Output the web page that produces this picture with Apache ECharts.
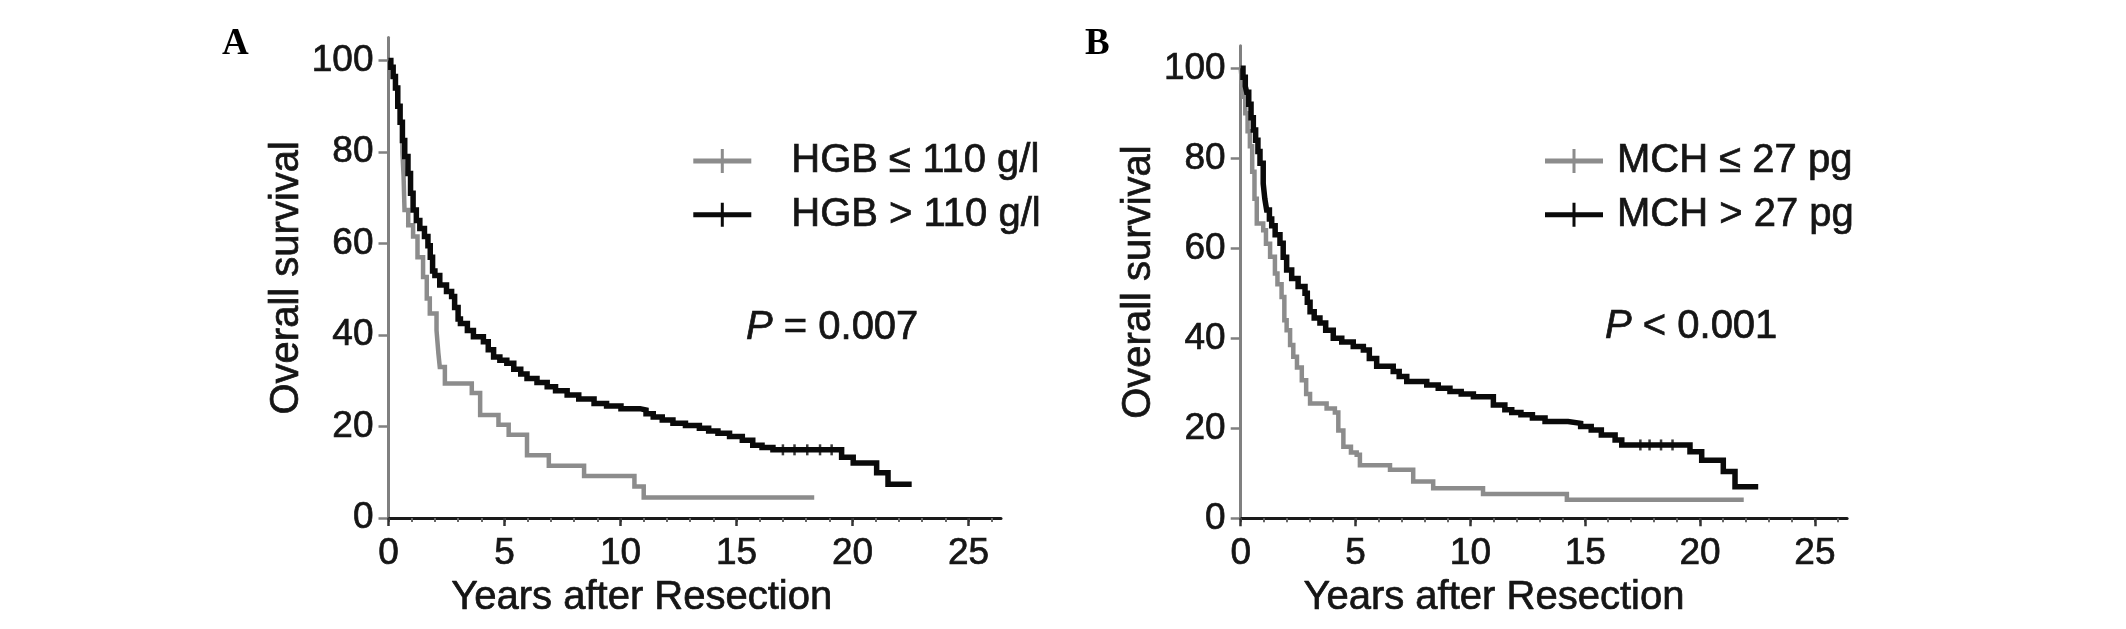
<!DOCTYPE html>
<html>
<head>
<meta charset="utf-8">
<script src="https://cdn.jsdelivr.net/npm/echarts/dist/echarts.min.js"></script>
<style>
html,body{margin:0;padding:0;background:#ffffff;}
#chart{width:2126px;height:629px;}
</style>
</head>
<body>
<div id="chart"></div>
<script>
// ---------- data ----------
const xLabelValues = [0, 5, 10, 15, 20, 25];
const xMinorTickValues = [0,1,2,3,4,5,6,7,8,9,10,11,12,13,14,15,16,17,18,19,20,21,22,23,24,25,26];
const yLabelValues = [0, 20, 40, 60, 80, 100];

const namesA = ['HGB ≤ 110 g/l', 'HGB > 110 g/l'];
const namesB = ['MCH ≤ 27 pg', 'MCH > 27 pg'];
const pTextA = 'P = 0.007';
const pTextB = 'P < 0.001';

// [years, survival %] step points (drop at the given time)
const hgbLow = [[0,100],[0.1,98.5],[0.2,96.5],[0.3,94],[0.4,90],[0.5,86.5],[0.6,80],[0.65,74.7],[0.69,67.3],[0.85,64],[1.06,61.5],[1.25,57],[1.49,52.7],[1.65,48],[1.78,44.7],[2.07,41],[2.15,36],[2.21,33],[2.43,29.4],[3.59,27.3],[3.95,22.5],[4.74,20.4],[5.18,18.2],[5.97,13.7],[6.91,11.4],[8.43,9.2],[10.6,6.9],[11.0,4.5],[18.35,4.5]];
const hgbHigh = [[0,100],[0.1,98.5],[0.2,96.5],[0.3,94],[0.4,90],[0.5,86.5],[0.6,82.5],[0.7,79],[0.84,75.3],[0.95,71],[1.06,67.3],[1.2,65],[1.35,63.3],[1.55,61.5],[1.7,59.5],[1.8,57],[1.9,54],[2.0,53],[2.21,50.9],[2.5,49.5],[2.72,48.4],[2.85,46],[3.0,43.5],[3.1,42.5],[3.4,41],[3.66,39.6],[4.09,38.5],[4.3,36.8],[4.53,35.2],[4.8,34.5],[5.1,33.8],[5.4,32.5],[5.7,31.5],[5.97,30.5],[6.4,29.6],[6.84,28.7],[7.2,27.8],[7.7,26.9],[8.2,26],[8.86,25.0],[9.4,24.5],[10.02,23.9],[10.84,23.6],[11.1,22.8],[11.41,22.1],[11.8,21.4],[12.26,20.7],[12.8,20.2],[13.4,19.6],[13.8,19.0],[14.2,18.5],[14.7,17.8],[15.25,17.0],[15.7,15.9],[16.1,15.4],[16.57,14.9],[19.53,13.3],[20.03,12.0],[21.04,9.9],[21.53,7.4],[22.55,7.4]];
const mchLow = [[0,100],[0.05,97],[0.11,93.7],[0.2,90],[0.3,86],[0.4,82.7],[0.5,77],[0.6,71],[0.7,65.5],[0.98,64],[1.1,61],[1.28,58.1],[1.49,54.4],[1.6,52],[1.78,49.2],[1.9,44],[2.0,41.8],[2.15,38.5],[2.29,35.9],[2.45,33.5],[2.66,30.7],[2.85,27.6],[3.02,25.5],[3.74,24.4],[4.1,23.5],[4.25,19.5],[4.47,15.9],[4.8,14.6],[5.05,14.1],[5.19,11.8],[6.5,10.8],[7.51,8.2],[8.38,6.7],[10.55,5.4],[14.2,4.1],[21.9,4.1]];
const mchHigh = [[0,100],[0.1,98],[0.2,96],[0.26,94.7],[0.35,92],[0.45,89],[0.55,86.3],[0.65,84],[0.75,81.5],[0.84,78.9],[0.98,74.4],[1.05,71],[1.13,68.5],[1.25,66.5],[1.35,65],[1.5,63],[1.71,61.1],[1.85,58],[2.0,55.2],[2.22,53.3],[2.5,51.5],[2.8,50],[2.9,48],[3.02,45.9],[3.2,44.5],[3.45,43.4],[3.7,41.8],[4.03,40],[4.4,39.2],[4.9,38.2],[5.34,37.4],[5.6,35.5],[5.92,33.8],[6.64,32.6],[6.9,31.5],[7.23,30.4],[8.1,29.6],[8.6,28.9],[9.11,28.2],[9.6,27.6],[10.13,27.0],[11.0,25.2],[11.5,24.1],[11.8,23.5],[12.2,23.0],[12.7,22.3],[13.25,21.5],[14.25,21.1],[14.8,20.4],[15.26,19.6],[15.7,18.5],[16.3,17.4],[16.59,16.3],[19.56,14.8],[20.07,12.9],[21.01,10.4],[21.52,7.0],[22.53,7.0]];
// censored observations visible on the flat parts
const hgbHighCensor = [[17.0,14.9],[17.5,14.9],[18.05,14.9],[18.6,14.9],[19.1,14.9]];
const mchHighCensor = [[17.4,16.3],[17.8,16.3],[18.3,16.3],[18.8,16.3]];

// ---------- styling ----------
const SANS = 'Liberation Sans, Arial, sans-serif';
const SERIF = 'Liberation Serif, Times New Roman, serif';
const TXT = '#151515';
const GRAY = '#8c8c8c';
const BLACK = '#0a0a0a';
const ICON = 'path://M0,9.5H58V14.5H0Z M27.5,0H30.5V24H27.5Z';
const HEAVY = {textBorderColor: TXT, textBorderWidth: 0.7};

const grids = [
  {left: 388.5, top: 37.6, width: 612.5, height: 480.4},
  {left: 1240.7, top: 45.8, width: 606.4, height: 472.5}
];

function mainX(gi, padRight) {
  return {
    type: 'value', gridIndex: gi, min: 0, max: 26.4, interval: 1, position: 'bottom',
    axisLine: {show: true, onZero: false, lineStyle: {color: '#1a1a1a', width: 3}},
    axisTick: {show: true, customValues: xMinorTickValues, length: 4, lineStyle: {color: '#666', width: 2}},
    axisLabel: Object.assign({show: true, customValues: xLabelValues, margin: 17, fontSize: 37, lineHeight: 37, fontFamily: SANS, color: TXT}, HEAVY),
    splitLine: {show: false},
    name: 'Years after Resection', nameLocation: 'middle', nameGap: 56,
    nameTextStyle: Object.assign({fontSize: 40, lineHeight: 40, fontFamily: SANS, color: TXT, padding: [0, padRight, 0, 0]}, HEAVY)
  };
}
function majorX(gi) {
  return {
    type: 'value', gridIndex: gi, min: 0, max: 26.4, interval: 5, position: 'top',
    offset: -grids[gi].height,
    axisLine: {show: false},
    axisTick: {show: true, inside: true, customValues: xLabelValues, length: 8, lineStyle: {color: '#333', width: 2.5}},
    axisLabel: {show: false}, splitLine: {show: false}
  };
}
function mainY(gi, gap) {
  return {
    type: 'value', gridIndex: gi, min: 0, max: 105, interval: 20,
    axisLine: {show: true, onZero: false, lineStyle: {color: '#808080', width: 3}},
    axisTick: {show: true, customValues: yLabelValues, length: 10, lineStyle: {color: '#808080', width: 2.5}},
    axisLabel: Object.assign({show: true, customValues: yLabelValues, margin: 15, fontSize: 37, lineHeight: 37, fontFamily: SANS, color: TXT, padding: [10, 0, 0, 0]}, HEAVY),
    splitLine: {show: false},
    name: 'Overall survival', nameLocation: 'middle', nameGap: gap,
    nameTextStyle: Object.assign({fontSize: 40, lineHeight: 40, fontFamily: SANS, color: TXT}, HEAVY)
  };
}
function kmLine(name, data, color, width, xi, yi) {
  return {
    type: 'line', name: name, data: data, step: 'end', symbol: 'none',
    xAxisIndex: xi, yAxisIndex: yi, color: color,
    lineStyle: {color: color, width: width, join: 'miter'},
    itemStyle: {color: color}, silent: true, animation: false
  };
}
function censor(name, data, color, xi, yi) {
  return {
    type: 'scatter', name: name, data: data, symbol: 'rect', symbolSize: [2.5, 11],
    xAxisIndex: xi, yAxisIndex: yi, itemStyle: {color: color}, silent: true, animation: false
  };
}
function legend(names, left, pad) {
  return {
    data: names.map(n => ({name: n, icon: ICON})),
    orient: 'vertical', left: left, top: 140.7, padding: 0, itemGap: 13,
    itemWidth: 58, itemHeight: 24, selectedMode: false,
    itemStyle: {borderWidth: 0},
    textStyle: Object.assign({fontSize: 40, lineHeight: 40, fontFamily: SANS, color: TXT, padding: [0, 0, 0, pad]}, HEAVY)
  };
}
function pTitle(text, left, top) {
  const parts = text.split(' ');
  return {
    text: '{i|' + parts[0] + '} ' + parts.slice(1).join(' '), left: left, top: top, padding: 0,
    textStyle: Object.assign({fontSize: 40, lineHeight: 40, fontWeight: 'normal', fontFamily: SANS, color: TXT,
      rich: {i: Object.assign({fontStyle: 'italic', fontSize: 40, lineHeight: 40, fontFamily: SANS, color: TXT}, HEAVY)}}, HEAVY)
  };
}
function letter(text, left) {
  return {text: text, left: left, top: 25.7, padding: 0,
    textStyle: {fontSize: 37, lineHeight: 37, fontWeight: 'bold', fontFamily: SERIF, color: '#000'}};
}

const chart = echarts.init(document.getElementById('chart'), null, {renderer: 'canvas'});
chart.setOption({
  backgroundColor: '#ffffff',
  animation: false,
  title: [letter('A', 222), letter('B', 1085), pTitle(pTextA, 746, 307.8), pTitle(pTextB, 1605, 306.8)],
  legend: [legend(namesA, 693.3, 35), legend(namesB, 1545, 9)],
  grid: grids,
  xAxis: [mainX(0, 106), majorX(0), mainX(1, 100), majorX(1)],
  yAxis: [mainY(0, 75), mainY(1, 70)],
  series: [
    kmLine(namesA[0], hgbLow, GRAY, 4.5, 0, 0),
    kmLine(namesA[1], hgbHigh, BLACK, 5.5, 0, 0),
    censor('censA', hgbHighCensor, BLACK, 0, 0),
    kmLine(namesB[0], mchLow, GRAY, 4.5, 2, 1),
    kmLine(namesB[1], mchHigh, BLACK, 5.5, 2, 1),
    censor('censB', mchHighCensor, BLACK, 2, 1)
  ]
});
</script>
</body>
</html>
